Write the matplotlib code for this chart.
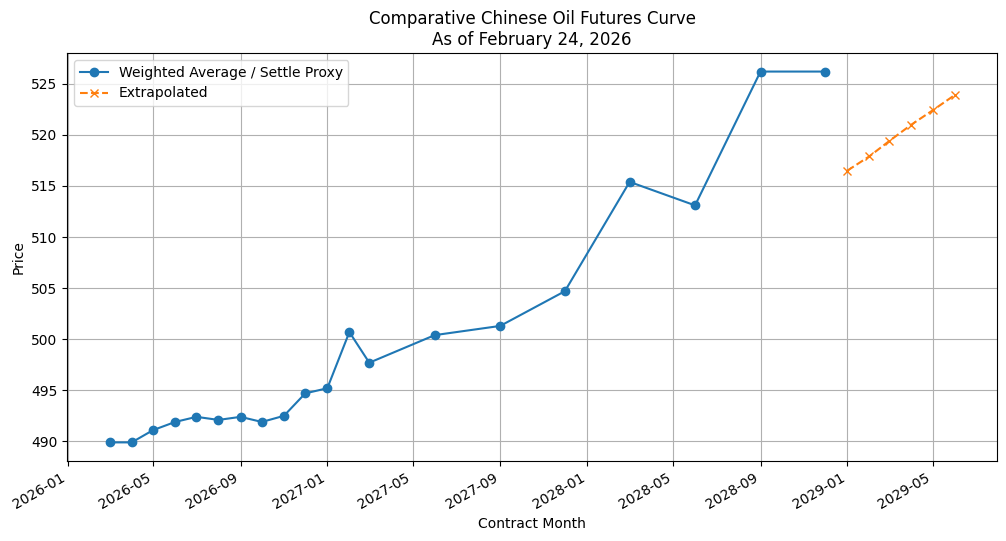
import matplotlib
matplotlib.use("Agg")
import matplotlib.pyplot as plt
import pandas as pd

settle_months = ["2026-03", "2026-04", "2026-05", "2026-06", "2026-07", "2026-08",
                 "2026-09", "2026-10", "2026-11", "2026-12", "2027-01", "2027-02",
                 "2027-03", "2027-06", "2027-09", "2027-12", "2028-03", "2028-06",
                 "2028-09", "2028-12"]
settle_prices = [489.9, 489.9, 491.1, 491.9, 492.4, 492.1, 492.4, 491.9, 492.5, 494.7,
                 495.2, 500.7, 497.7, 500.4, 501.3, 504.7, 515.4, 513.1, 526.2, 526.2]

extrap_months = ["2029-01", "2029-02", "2029-03", "2029-04", "2029-05", "2029-06"]
extrap_prices = [516.5, 517.9, 519.4, 521.0, 522.4, 523.9]

settle_dates = pd.to_datetime(settle_months)
extrap_dates = pd.to_datetime(extrap_months)

fig, ax = plt.subplots(figsize=(10.06, 5.41), dpi=100)
ax.plot(settle_dates, settle_prices, marker='o', label='Weighted Average / Settle Proxy')
ax.plot(extrap_dates, extrap_prices, marker='x', linestyle='--', label='Extrapolated')

ax.set_title('Comparative Chinese Oil Futures Curve\nAs of February 24, 2026')
ax.set_xlabel('Contract Month')
ax.set_ylabel('Price')
ax.legend(loc='upper left')
ax.grid(True)
fig.autofmt_xdate()
fig.subplots_adjust(left=0.067, right=0.991, top=0.902, bottom=0.148)
fig.savefig('out.png', dpi=100)
